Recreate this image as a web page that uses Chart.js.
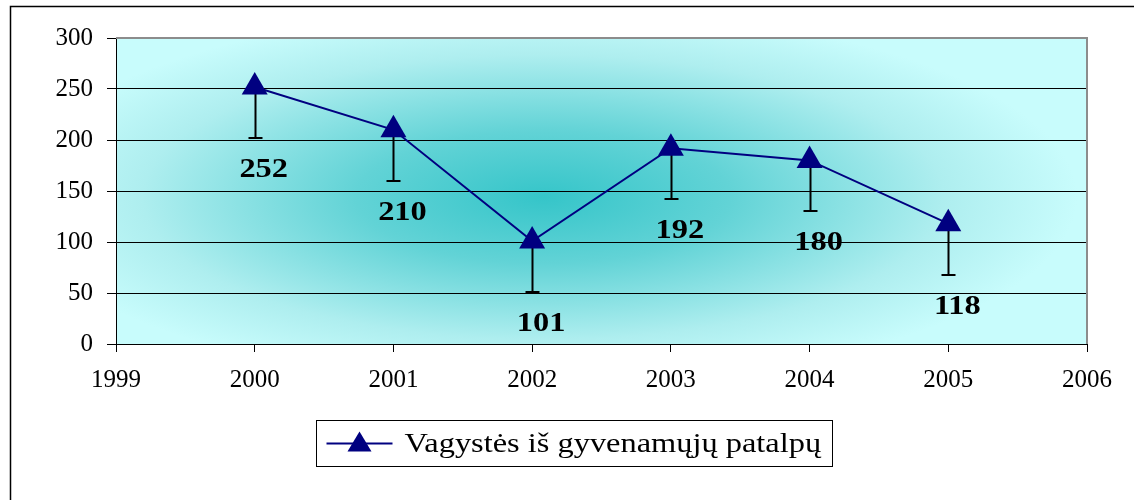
<!DOCTYPE html>
<html lang="lt">
<head>
<meta charset="UTF-8">
<title>Vagystės iš gyvenamųjų patalpų</title>
<script src="https://cdn.jsdelivr.net/npm/chart.js"></script>
<style>
  html,body{margin:0;padding:0;background:#fff}
  #wrap{width:1134px;height:500px}
</style>
</head>
<body>
<div id="wrap"><canvas id="chart" width="1134" height="500"></canvas></div>
<script>
// --- data ------------------------------------------------------------------
const years=[2000,2001,2002,2003,2004,2005];
const thefts=[252,210,101,192,180,118];
const errMinus=[50,50,50,50,50,50];
const seriesName='Vagystės iš gyvenamųjų patalpų';
const xMin=1999, xMax=2006;
const yMin=0, yMax=300, yStep=50;

const SERIF="'Liberation Serif','Times New Roman',serif";
const NAVY='#000080';
const STRETCH=1.2; // source picture is widened a little, text too

// text drawn a bit wider than tall, like the original
function wideText(ctx,txt,x,y,align){
  ctx.save();
  ctx.translate(x,y);ctx.scale(STRETCH,1);
  ctx.textAlign=align;
  ctx.fillText(txt,0,0);
  ctx.restore();
}

// --- plugins ---------------------------------------------------------------
const backdrop={
  id:'backdrop',
  beforeDraw(chart){
    const {ctx,chartArea:a}=chart;
    ctx.save();
    // outer frame (runs off the right/bottom edge like the source)
    ctx.strokeStyle='#000';ctx.lineWidth=1.5;
    ctx.strokeRect(10.5,6.5,1200,600);
    // plot area: teal glow from the centre
    const cx=a.left+(a.right-a.left)*0.44, cy=a.top+(a.bottom-a.top)*0.52;
    const rx=(a.right-a.left)*0.55, ry=(a.bottom-a.top)*0.62;
    ctx.beginPath();ctx.rect(a.left,a.top,a.right-a.left,a.bottom-a.top);ctx.clip();
    ctx.fillStyle='#c8fcfc';
    ctx.fillRect(a.left,a.top,a.right-a.left,a.bottom-a.top);
    ctx.translate(cx,cy);ctx.scale(1,ry/rx);
    const g=ctx.createRadialGradient(0,0,0,0,0,rx);
    g.addColorStop(0,'#35c5c9');
    g.addColorStop(0.35,'#62d3d6');
    g.addColorStop(0.75,'#aeeeef');
    g.addColorStop(1,'#c8fcfc');
    ctx.fillStyle=g;
    ctx.fillRect(-rx*2,-rx*2,rx*4,rx*4);
    ctx.restore();
  },
  afterDraw(chart){
    const {ctx,chartArea:a}=chart;
    ctx.save();
    ctx.strokeStyle='#8c8c8c';ctx.lineWidth=2;
    ctx.beginPath();
    ctx.moveTo(a.left,a.top);ctx.lineTo(a.right,a.top);ctx.lineTo(a.right,a.bottom);
    ctx.stroke();
    ctx.restore();
  }
};

const errorBars={
  id:'errorBars',
  beforeDatasetsDraw(chart){
    const {ctx,scales:{x,y}}=chart;
    ctx.save();
    ctx.strokeStyle='#000';ctx.lineWidth=2;
    years.forEach((yr,i)=>{
      const px=Math.round(x.getPixelForValue(yr))+0.5;
      const top=y.getPixelForValue(thefts[i]);
      const bot=Math.round(y.getPixelForValue(thefts[i]-errMinus[i]));
      ctx.beginPath();
      ctx.moveTo(px,top);ctx.lineTo(px,bot);
      ctx.moveTo(px-7,bot);ctx.lineTo(px+7,bot);
      ctx.stroke();
    });
    ctx.restore();
  },
  afterDatasetsDraw(chart){
    const {ctx,scales:{x,y}}=chart;
    ctx.save();
    ctx.fillStyle='#000';
    ctx.font='bold 27px '+SERIF;
    ctx.textBaseline='middle';
    years.forEach((yr,i)=>{
      wideText(ctx,String(thefts[i]),x.getPixelForValue(yr)+9,y.getPixelForValue(thefts[i])+83,'center');
    });
    ctx.restore();
  }
};

const boxLegend={
  id:'boxLegend',
  afterDraw(chart){
    const {ctx}=chart;
    const ds=chart.data.datasets[0];
    ctx.save();
    const left=316.5, top=420.5, w=516, h=46;
    ctx.fillStyle='#fff';ctx.fillRect(left,top,w,h);
    ctx.strokeStyle='#000';ctx.lineWidth=1;ctx.strokeRect(left,top,w,h);
    const my=top+h/2;
    ctx.strokeStyle=ds.borderColor;ctx.lineWidth=2;
    ctx.beginPath();ctx.moveTo(left+10,my);ctx.lineTo(left+76,my);ctx.stroke();
    ctx.fillStyle=ds.pointBackgroundColor;
    ctx.beginPath();
    ctx.moveTo(left+43,my-12);ctx.lineTo(left+55,my+8);ctx.lineTo(left+31,my+8);ctx.closePath();ctx.fill();
    ctx.fillStyle='#000';ctx.textBaseline='middle';
    ctx.font='27px '+SERIF;
    wideText(ctx,ds.label,left+88,my+1,'left');
    ctx.restore();
  }
};

// --- chart -----------------------------------------------------------------
new Chart(document.getElementById('chart'),{
  type:'line',
  data:{
    datasets:[{
      label:seriesName,
      data:years.map((yr,i)=>({x:yr,y:thefts[i]})),
      borderColor:NAVY,borderWidth:2,
      pointStyle:'triangle',pointRadius:15,pointHoverRadius:15,
      pointBackgroundColor:NAVY,pointBorderColor:NAVY,pointBorderWidth:0,
      tension:0
    }]
  },
  options:{
    responsive:false,animation:false,
    layout:{padding:{top:38,right:47,left:0,bottom:0}},
    plugins:{legend:{display:false},tooltip:{enabled:false}},
    scales:{
      x:{
        type:'linear',min:xMin,max:xMax,
        afterFit(s){s.height=156;},
        ticks:{stepSize:1,padding:13,color:'#000',font:{family:SERIF,size:25},
          callback:v=>String(v),maxRotation:0},
        grid:{drawOnChartArea:false,tickLength:8,tickColor:'#000'},
        border:{color:'#000',width:1}
      },
      y:{
        min:yMin,max:yMax,
        afterFit(s){s.width=116;},
        ticks:{stepSize:yStep,padding:14,color:'#000',font:{family:SERIF,size:25}},
        grid:{color:'#000',lineWidth:1,tickLength:9,tickColor:'#000'},
        border:{color:'#000',width:1}
      }
    }
  },
  plugins:[backdrop,errorBars,boxLegend]
});
</script>
</body>
</html>
